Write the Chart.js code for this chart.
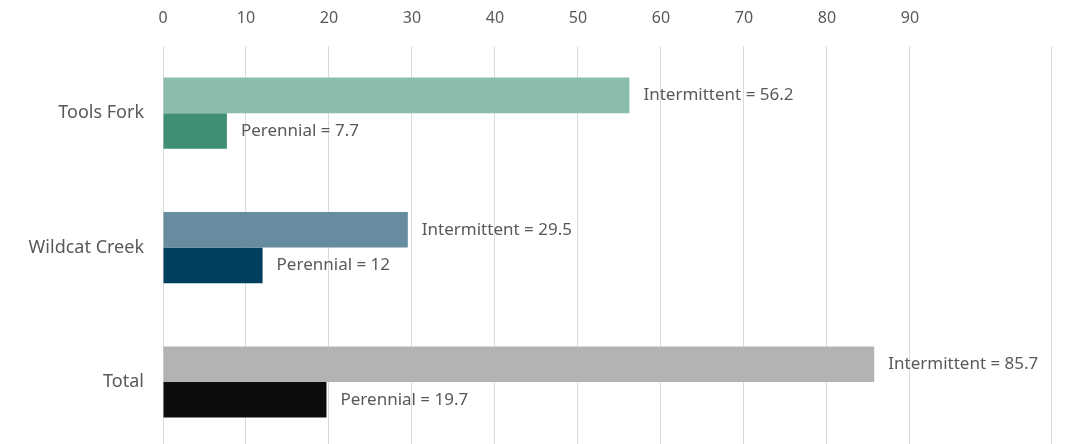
<!DOCTYPE html>
<html>
<head>
<meta charset="utf-8">
<script src="https://cdn.jsdelivr.net/npm/chart.js@4.4.1/dist/chart.umd.min.js"></script>
<style>
  html, body { margin: 0; padding: 0; background: #fff; overflow: hidden; }
  #wrap { position: relative; width: 1069px; height: 479px; }
</style>
</head>
<body>
<div id="wrap"><canvas id="streamChart"></canvas></div>
<script>
// stream miles by type, per watershed
const categories = ['Tools Fork', 'Wildcat Creek', 'Total'];
const intermittent = [56.2, 29.5, 85.7];
const perennial = [7.7, 12, 19.7];
const tickValues = [0, 10, 20, 30, 40, 50, 60, 70, 80, 90];
const axisMax = 107;

const intermittentColors = ['#8bbdab', '#678b9f', '#b3b3b3'];
const perennialColors = ['#3f8f73', '#00405c', '#0d0d0d'];

const textColor = '#595959';
const fontFamily = "'Noto Sans', 'Liberation Sans', sans-serif";

// "Intermittent = 56.2" labels at the end of each bar
const barLabels = {
  id: 'barLabels',
  afterDatasetsDraw(chart) {
    const c = chart.ctx;
    c.save();
    c.font = '17px ' + fontFamily;
    c.fillStyle = textColor;
    c.textAlign = 'left';
    c.textBaseline = 'middle';
    chart.data.datasets.forEach((ds, i) => {
      chart.getDatasetMeta(i).data.forEach((bar, j) => {
        c.fillText(ds.label + ' = ' + ds.data[j], bar.x + 14, bar.y);
      });
    });
    c.restore();
  }
};

const ctx = document.getElementById('streamChart').getContext('2d');
const streamChart = new Chart(ctx, {
  type: 'bar',
  data: {
    labels: categories,
    datasets: [
      {
        label: 'Intermittent',
        data: intermittent,
        backgroundColor: intermittentColors,
        categoryPercentage: 0.53,
        barPercentage: 1
      },
      {
        label: 'Perennial',
        data: perennial,
        backgroundColor: perennialColors,
        categoryPercentage: 0.53,
        barPercentage: 1
      }
    ]
  },
  options: {
    indexAxis: 'y',
    responsive: true,
    maintainAspectRatio: false,
    animation: false,
    layout: { padding: { left: 0, right: 18, top: 0, bottom: 2 } },
    plugins: {
      legend: { display: false },
      tooltip: { enabled: false }
    },
    scales: {
      x: {
        position: 'top',
        min: 0,
        max: axisMax,
        z: 1,  // gridlines show through the bars in the original
        afterBuildTicks: function(scale) {
          scale.ticks = tickValues.concat([axisMax]).map(v => ({ value: v }));
        },
        afterFit: function(scale) {
          scale.height = 46;
        },
        border: { display: false },
        grid: {
          color: 'rgba(0, 0, 0, 0.14)',
          drawTicks: false
        },
        ticks: {
          padding: 18,
          color: textColor,
          font: { family: fontFamily, size: 16 },
          callback: function(value) {
            return value <= 90 ? value : '';
          }
        }
      },
      y: {
        afterFit: function(scale) {
          scale.width = 163;
        },
        border: { display: false },
        grid: { display: false, drawTicks: false },
        ticks: {
          padding: 19,
          color: textColor,
          font: { family: fontFamily, size: 18 }
        }
      }
    }
  },
  plugins: [barLabels]
});
</script>
</body>
</html>
